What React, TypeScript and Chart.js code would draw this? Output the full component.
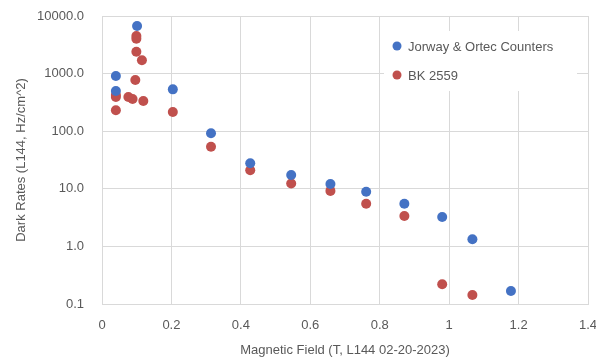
import React, { useEffect, useRef } from "react";
import { Chart, registerables } from "chart.js";

Chart.register(...registerables);

const seriesNames = ["Jorway & Ortec Counters", "BK 2559"];
const seriesColors = ["#4472C4", "#C0504D"];

const jorwayField = [0.04, 0.04, 0.101, 0.204, 0.314, 0.427, 0.545, 0.658, 0.761, 0.871, 0.98, 1.067, 1.178];
const jorwayRate = [910, 500, 6700, 533, 92, 27.7, 17.4, 12.1, 8.9, 5.5, 3.24, 1.33, 0.168];

const bkField = [0.099, 0.099, 0.099, 0.115, 0.096, 0.04, 0.04, 0.076, 0.088, 0.119, 0.04, 0.204, 0.314, 0.427, 0.545, 0.658, 0.761, 0.871, 0.98, 1.067];
const bkRate = [4500, 4040, 2400, 1700, 775, 425, 393, 392, 362, 334, 231, 215, 53.8, 21, 12.4, 9.2, 5.5, 3.37, 0.22, 0.143];

const yTicks = [0.1, 1, 10, 100, 1000, 10000];
const xTicks = [0, 0.2, 0.4, 0.6, 0.8, 1, 1.2, 1.4];

const xTitle = "Magnetic Field (T, L144 02-20-2023)";
const yTitle = "Dark Rates (L144, Hz/cm^2)";

const FONT = "'Liberation Sans', Arial, sans-serif";
const TEXT = "#595959";
const GRID = "#d9d9d9";

const legendPlugin = {
  id: "insideLegend",
  afterDraw(chart: any) {
    const ctx = chart.ctx;
    ctx.save();
    ctx.fillStyle = "#ffffff";
    ctx.fillRect(384, 31, 193, 60);
    ctx.font = `13px ${FONT}`;
    ctx.textBaseline = "middle";
    ctx.textAlign = "left";
    const rows = [46, 75];
    seriesNames.forEach((name, i) => {
      ctx.beginPath();
      ctx.fillStyle = seriesColors[i];
      ctx.arc(397, rows[i], 4.5, 0, Math.PI * 2);
      ctx.fill();
      ctx.fillStyle = TEXT;
      ctx.fillText(name, 408, rows[i] + 1);
    });
    ctx.restore();
  },
};

export default function App() {
  const ref = useRef<HTMLCanvasElement | null>(null);
  useEffect(() => {
    if (!ref.current) return;
    const chart = new Chart(ref.current, {
      type: "scatter",
      data: {
        datasets: [
          {
            label: seriesNames[0],
            data: jorwayField.map((x, i) => ({ x, y: jorwayRate[i] })),
            backgroundColor: seriesColors[0],
            borderColor: seriesColors[0],
            pointRadius: 5,
            borderWidth: 0,
          },
          {
            label: seriesNames[1],
            data: bkField.map((x, i) => ({ x, y: bkRate[i] })),
            backgroundColor: seriesColors[1],
            borderColor: seriesColors[1],
            pointRadius: 5,
            borderWidth: 0,
          },
        ],
      },
      options: {
        animation: false,
        responsive: false,
        maintainAspectRatio: false,
        layout: { padding: { left: 0, right: 8, top: 16, bottom: 0 } },
        plugins: {
          legend: { display: false },
          tooltip: { enabled: false },
        },
        scales: {
          x: {
            type: "linear",
            min: 0,
            max: 1.4,
            afterBuildTicks: (scale: any) => {
              scale.ticks = xTicks.map((v) => ({ value: v }));
            },
            afterFit: (scale: any) => {
              scale.height = 55;
              scale.paddingLeft = 0;
              scale.paddingRight = 0;
            },
            grid: { color: GRID, drawTicks: false },
            border: { color: GRID },
            ticks: {
              color: TEXT,
              font: { family: FONT, size: 13 },
              padding: 14,
              callback: (v: any) => String(v),
            },
            title: {
              display: true,
              text: xTitle,
              color: TEXT,
              font: { family: FONT, size: 13 },
              padding: { top: 0, bottom: 1 },
            },
          },
          y: {
            type: "logarithmic",
            min: 0.1,
            max: 10000,
            afterBuildTicks: (scale: any) => {
              scale.ticks = yTicks.map((v) => ({ value: v }));
            },
            afterFit: (scale: any) => {
              scale.width = 102;
              scale.paddingTop = 0;
              scale.paddingBottom = 0;
            },
            grid: { color: GRID, drawTicks: false },
            border: { color: GRID },
            ticks: {
              color: TEXT,
              font: { family: FONT, size: 13 },
              padding: 18,
              callback: (v: any) => Number(v).toFixed(1),
            },
            title: {
              display: true,
              text: yTitle,
              color: TEXT,
              font: { family: FONT, size: 13 },
              padding: { top: 14, bottom: 0 },
            },
          },
        },
      },
      plugins: [legendPlugin],
    } as any);
    return () => chart.destroy();
  }, []);
  return (
    <div style={{ position: "fixed", left: 0, top: 0, width: 596, height: 359, background: "#fff" }}>
      <canvas ref={ref} width={596} height={359} style={{ width: 596, height: 359 }} />
    </div>
  );
}
